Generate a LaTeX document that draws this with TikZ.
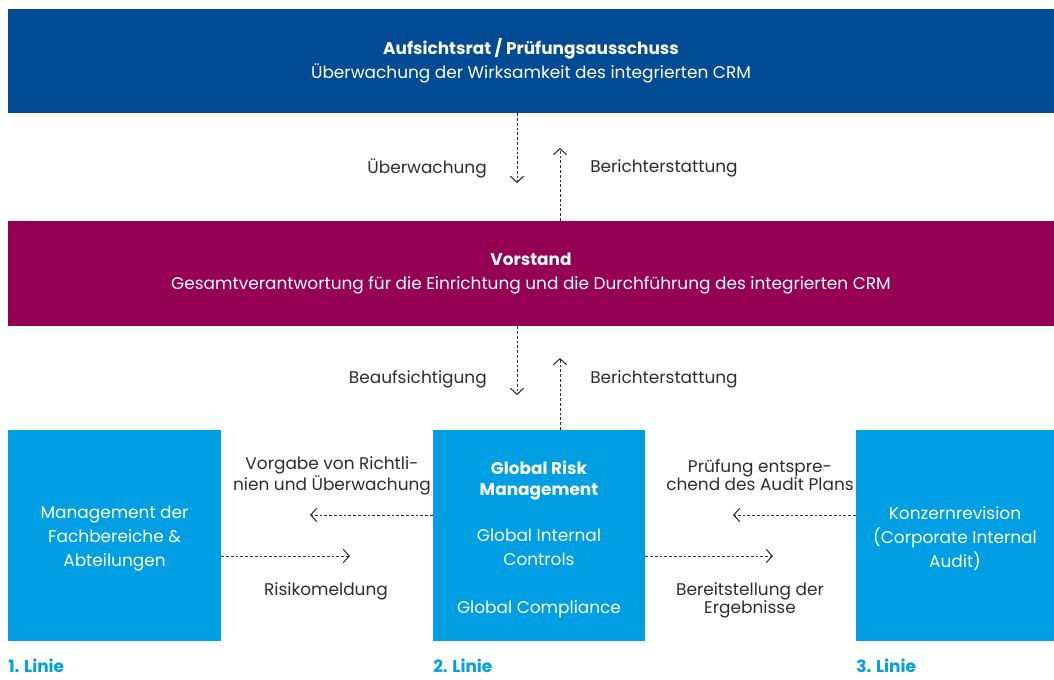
\documentclass[tikz,border=0pt]{standalone}
\usepackage{fontspec}
\setmainfont{Poppins}
\usetikzlibrary{arrows.meta}
\definecolor{aufsichtcolor}{RGB}{0,75,147}
\definecolor{vorstandcolor}{RGB}{150,0,84}
\definecolor{liniecolor}{RGB}{0,159,227}
\definecolor{textcolor}{RGB}{45,45,45}
\begin{document}
\begin{tikzpicture}[x=0.75pt,y=-0.75pt]
\tikzstyle{box}=[inner sep=0pt,align=center,text=white,font=\fontsize{12.7}{18}\selectfont]
\tikzstyle{wide}=[box,minimum width=784.5pt]
\tikzstyle{pillar}=[box,fill=liniecolor,minimum height=158.25pt]
\tikzstyle{label}=[inner sep=0pt,align=center,text=textcolor,font=\fontsize{12.7}{13.5}\selectfont]
\tikzstyle{linie}=[inner sep=0pt,anchor=west,text=liniecolor,font=\fontsize{12.7}{13.5}\selectfont\bfseries]
\tikzstyle{flow}=[textcolor,line width=0.6pt,dash pattern=on 2pt off 1.6pt,-{Straight Barb[length=4.5pt,width=10pt,line width=0.8pt]}]
\useasboundingbox (0,0) rectangle (1054,679);
% boxes
\node[wide,fill=aufsichtcolor,minimum height=78pt] (aufsicht) at (531,61)
  {\textbf{Aufsichtsrat / Prüfungsausschuss}\\Überwachung der Wirksamkeit des integrierten CRM};
\node[wide,fill=vorstandcolor,minimum height=78.75pt] (vorstand) at (531,273.5)
  {\textbf{Vorstand}\\Gesamtverantwortung für die Einrichtung und die Durchführung des integrierten CRM};
\node[pillar,minimum width=159.75pt] (management) at (114.5,535.5)
  {\rule{0pt}{14pt}Management der\\Fachbereiche \&\\Abteilungen};
\node[pillar,minimum width=159pt] (risk) at (539,535.5)
  {\rule{0pt}{15.5pt}\textbf{Global Risk}\\[-2.25pt]\textbf{Management}\\[16.5pt]Global Internal\\Controls\\[18pt]Global Compliance};
\node[pillar,minimum width=148.5pt] (revision) at (955,535.5)
  {\rule{0pt}{14pt}Konzernrevision\\(Corporate Internal\\Audit)};
% free ends
\coordinate (down1) at (517,183);
\coordinate (up1) at (560,148);
\coordinate (down2) at (517,395);
\coordinate (up2) at (560,358);
\coordinate (left1) at (310,515);
\coordinate (right1) at (350,556);
\coordinate (left2) at (733,515);
\coordinate (right2) at (773,556);
% connectors
\draw[flow] (aufsicht.south -| down1) -- (down1);
\draw[flow] (vorstand.north -| up1) -- (up1);
\draw[flow] (vorstand.south -| down2) -- (down2);
\draw[flow] (risk.north -| up2) -- (up2);
\draw[flow] (risk.west |- left1) -- (left1);
\draw[flow] (management.east |- right1) -- (right1);
\draw[flow] (revision.west |- left2) -- (left2);
\draw[flow] (risk.east |- right2) -- (right2);
% labels
\node[label,anchor=east] (ueberwachung) at (487,168) {Überwachung};
\node[label,anchor=west] (bericht1) at (590,168) {Berichterstattung};
\node[label,anchor=east] (beaufsichtigung) at (487,379) {Beaufsichtigung};
\node[label,anchor=west] (bericht2) at (590,379) {Berichterstattung};
\node[label] (vorgabe) at (332,476) {Vorgabe von Richtli-\\nien und Überwachung};
\node[label] (risikomeldung) at (326,591) {Risikomeldung};
\node[label] (pruefung) at (760,475) {Prüfung entspre-\\chend des Audit Plans};
\node[label] (bereitstellung) at (750,600) {Bereitstellung der\\Ergebnisse};
\node[linie] (linie1) at (8,666) {1. Linie};
\node[linie] (linie2) at (433,666) {2. Linie};
\node[linie] (linie3) at (856,666) {3. Linie};
\end{tikzpicture}
\end{document}
